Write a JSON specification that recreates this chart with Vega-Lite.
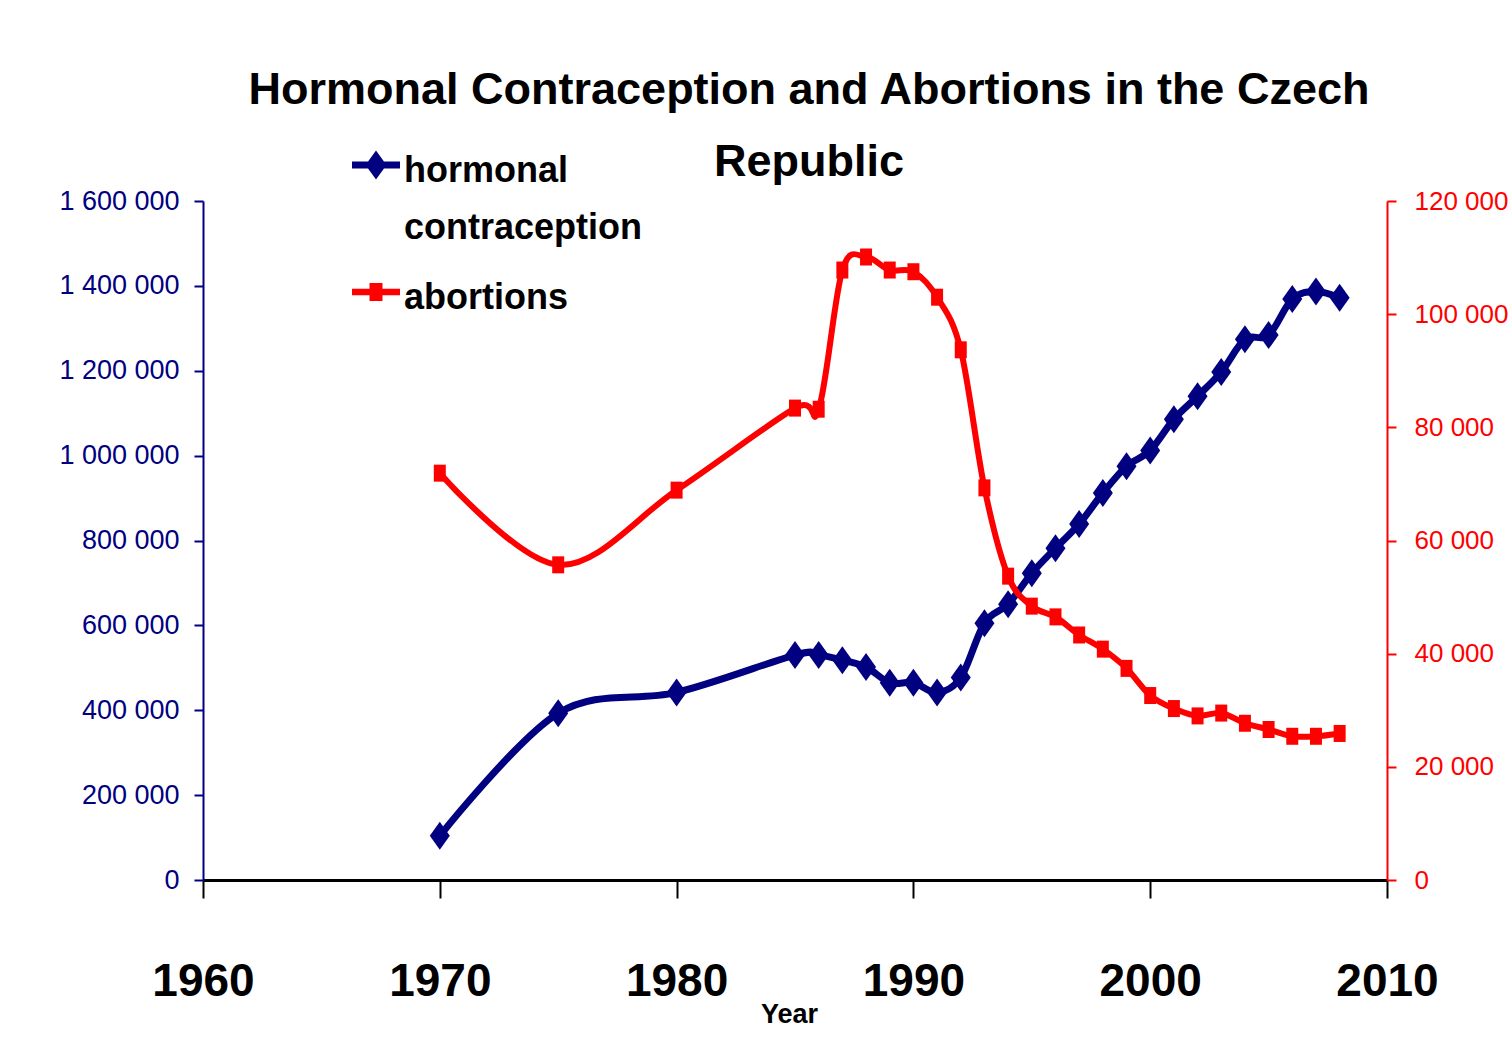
{
  "$schema": "https://vega.github.io/schema/vega-lite/v6.json",
  "width": 1184,
  "height": 679,
  "autosize": {"type": "none"},
  "padding": {"left": 203, "top": 201, "right": 125, "bottom": 159},
  "background": "white",
  "config": {
    "view": {"stroke": null},
    "font": "Liberation Sans, Arial, sans-serif"
  },
  "title": {
    "text": ["Hormonal Contraception and Abortions in the Czech", "Republic"],
    "fontSize": 45,
    "fontWeight": "bold",
    "font": "Liberation Sans, Arial, sans-serif",
    "color": "black",
    "anchor": "middle",
    "lineHeight": 72,
    "dx": 14,
    "offset": -38
  },
  "data": {
    "values": [
      {"year": 1970, "hc": 104000, "ab": 71900},
      {"year": 1975, "hc": 393000, "ab": 55700},
      {"year": 1980, "hc": 442000, "ab": 68900},
      {"year": 1985, "hc": 530000, "ab": 83400},
      {"year": 1986, "hc": 530000, "ab": 83200},
      {"year": 1987, "hc": 518000, "ab": 107800},
      {"year": 1988, "hc": 502000, "ab": 110100},
      {"year": 1989, "hc": 465000, "ab": 107800},
      {"year": 1990, "hc": 465000, "ab": 107500},
      {"year": 1991, "hc": 442000, "ab": 103000},
      {"year": 1992, "hc": 477000, "ab": 93700},
      {"year": 1993, "hc": 605000, "ab": 69300},
      {"year": 1994, "hc": 650000, "ab": 53700},
      {"year": 1995, "hc": 723000, "ab": 48400},
      {"year": 1996, "hc": 782000, "ab": 46500},
      {"year": 1997, "hc": 839000, "ab": 43300},
      {"year": 1998, "hc": 912000, "ab": 40800},
      {"year": 1999, "hc": 975000, "ab": 37400},
      {"year": 2000, "hc": 1012000, "ab": 32600},
      {"year": 2001, "hc": 1086000, "ab": 30300},
      {"year": 2002, "hc": 1140000, "ab": 29000},
      {"year": 2003, "hc": 1197000, "ab": 29500},
      {"year": 2004, "hc": 1274000, "ab": 27700},
      {"year": 2005, "hc": 1284000, "ab": 26600},
      {"year": 2006, "hc": 1369000, "ab": 25400},
      {"year": 2007, "hc": 1387000, "ab": 25400},
      {"year": 2008, "hc": 1372000, "ab": 25900}
    ]
  },
  "encoding": {
    "x": {
      "field": "year",
      "type": "quantitative",
      "scale": {"domain": [1960, 2010], "nice": false, "zero": false},
      "axis": {
        "values": [1960, 1970, 1980, 1990, 2000, 2010],
        "format": "d",
        "grid": false,
        "labelFontSize": 46,
        "labelFontWeight": "bold",
        "labelColor": "black",
        "labelPadding": 61,
        "labelFlush": false,
        "labelOverlap": false,
        "domainColor": "black",
        "domainWidth": 3,
        "tickColor": "black",
        "tickWidth": 2,
        "tickSize": 18,
        "title": "Year",
        "titleFontSize": 27,
        "titleFontWeight": "bold",
        "titleColor": "black",
        "titleX": 586,
        "titleY": 142,
        "titleAlign": "center",
        "titleBaseline": "alphabetic"
      }
    }
  },
  "layer": [
    {
      "encoding": {
        "y": {
          "field": "hc",
          "type": "quantitative",
          "scale": {"domain": [0, 1600000], "nice": false},
          "axis": {
            "orient": "left",
            "title": null,
            "grid": false,
            "values": [0, 200000, 400000, 600000, 800000, 1000000, 1200000, 1400000, 1600000],
            "labelExpr": "replace(format(datum.value, ','), regexp(',', 'g'), ' ')",
            "labelColor": "#000080",
            "labelFontSize": 27,
            "labelPadding": 15,
            "domainColor": "#000080",
            "domainWidth": 2,
            "tickColor": "#000080",
            "tickWidth": 2,
            "tickSize": 9
          }
        },
        "color": {
          "datum": "hormonal contraception",
          "type": "nominal",
          "scale": {"domain": ["hormonal contraception", "abortions"], "range": ["#000080", "#ff0000"]},
          "legend": {
            "orient": "none",
            "legendX": 155,
            "legendY": -54,
            "title": null,
            "padding": 0,
            "symbolSize": 400,
            "labelFontSize": 36,
            "labelFontWeight": "bold",
            "labelColor": "black",
            "labelOffset": 10,
            "labelLimit": 500,
            "rowPadding": 28,
            "labelExpr": "datum.label === 'hormonal contraception' ? ['hormonal', 'contraception'] : datum.label",
            "encode": {
              "symbols": {
                "update": {
                  "shape": {"signal": "datum.value === 'abortions' ? 'M-2.4,-0.32L2.4,-0.32L2.4,0.32L-2.4,0.32Z M-0.65,-0.9L0.65,-0.9L0.65,0.9L-0.65,0.9Z' : 'M-2.4,-0.35L2.4,-0.35L2.4,0.35L-2.4,0.35Z M0,-1.45L1.05,0L0,1.45L-1.05,0Z'"},
                  "fill": {"signal": "datum.value === 'abortions' ? '#ff0000' : '#000080'"},
                  "stroke": {"value": "transparent"},
                  "strokeWidth": {"value": 0},
                  "opacity": {"value": 1}
                }
              },
              "labels": {
                "update": {
                  "lineHeight": {"value": 57},
                  "dy": {"value": 6}
                }
              }
            }
          }
        }
      },
      "layer": [
        {"mark": {"type": "line", "interpolate": "cardinal", "strokeWidth": 7}},
        {"mark": {"type": "point", "shape": "M0,-1.4L1,0L0,1.4L-1,0Z", "filled": true, "size": 400, "opacity": 1, "strokeWidth": 0}}
      ]
    },
    {
      "encoding": {
        "y": {
          "field": "ab",
          "type": "quantitative",
          "scale": {"domain": [0, 120000], "nice": false},
          "axis": {
            "orient": "right",
            "title": null,
            "grid": false,
            "values": [0, 20000, 40000, 60000, 80000, 100000, 120000],
            "labelExpr": "replace(format(datum.value, ','), regexp(',', 'g'), ' ')",
            "labelColor": "#ff0000",
            "labelFontSize": 26,
            "labelPadding": 18,
            "domainColor": "#ff0000",
            "domainWidth": 2,
            "tickColor": "#ff0000",
            "tickWidth": 2,
            "tickSize": 9
          }
        },
        "color": {"datum": "abortions", "type": "nominal"}
      },
      "layer": [
        {"mark": {"type": "line", "interpolate": "cardinal", "strokeWidth": 6}},
        {"mark": {"type": "point", "shape": "M-0.6,-0.85L0.6,-0.85L0.6,0.85L-0.6,0.85Z", "filled": true, "size": 400, "opacity": 1, "strokeWidth": 0}}
      ]
    }
  ],
  "resolve": {"scale": {"y": "independent"}}
}
